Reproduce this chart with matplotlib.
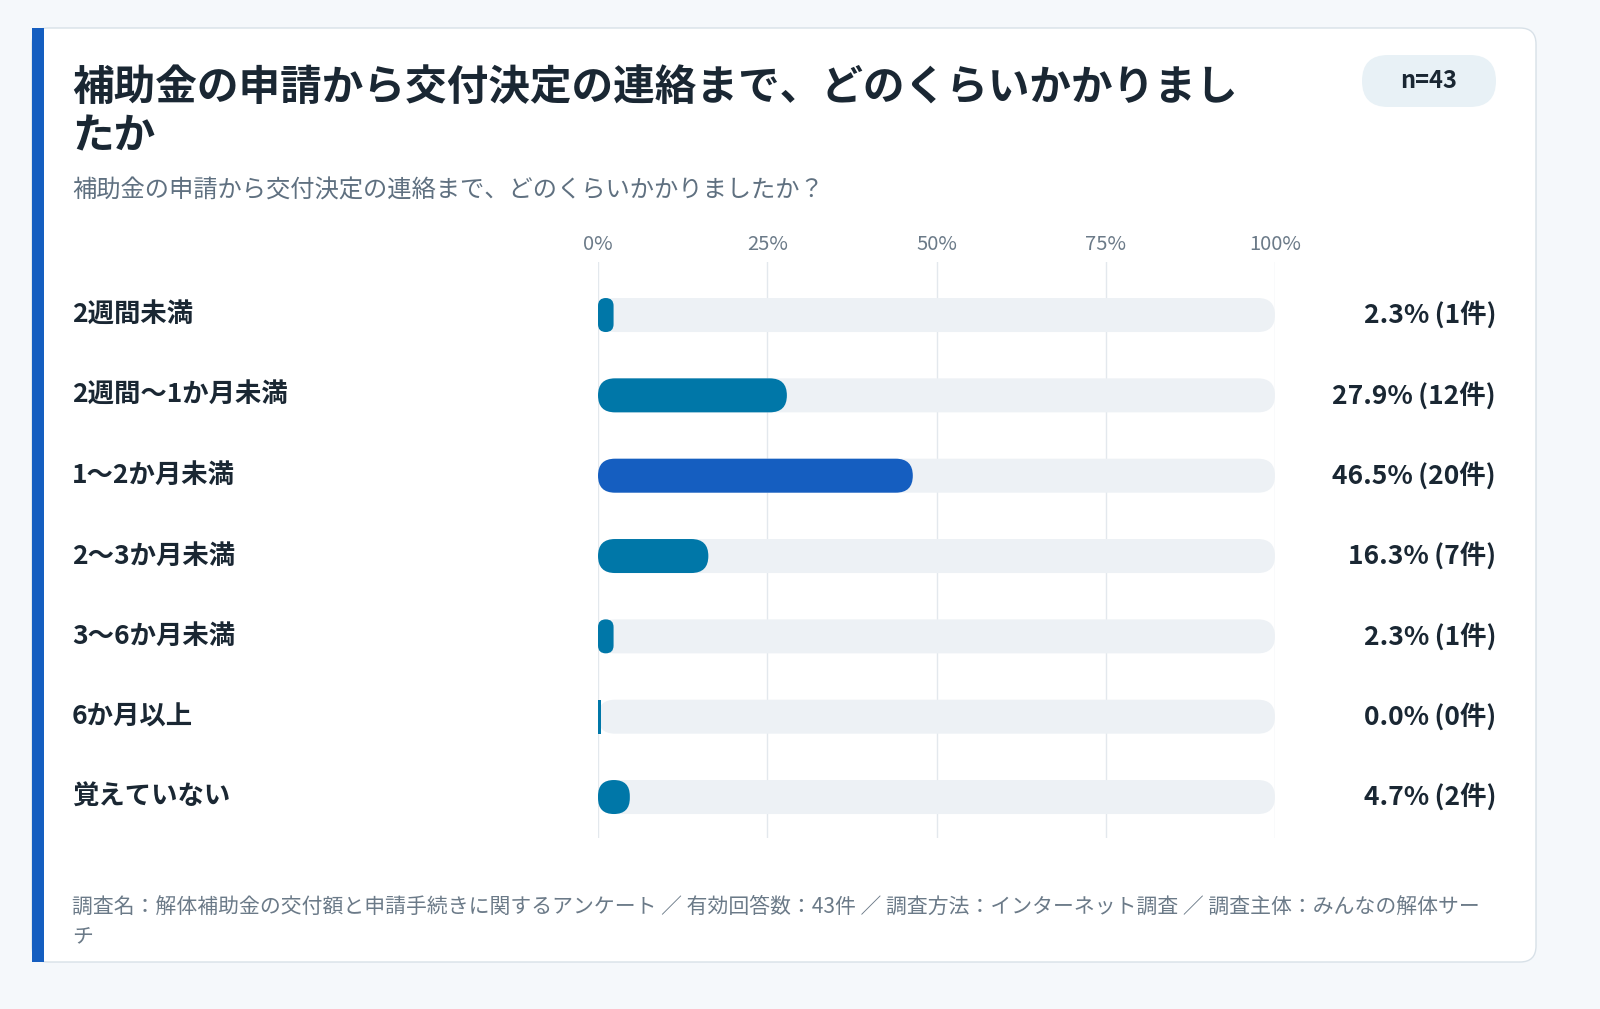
import matplotlib
matplotlib.use("Agg")
import matplotlib.pyplot as plt
from matplotlib.patches import FancyBboxPatch, Rectangle

plt.rcParams['font.family'] = ['Noto Sans CJK JP', 'DejaVu Sans']

categories = ["2週間未満", "2週間〜1か月未満", "1〜2か月未満", "2〜3か月未満", "3〜6か月未満", "6か月以上", "覚えていない"]
percents = [2.3, 27.9, 46.5, 16.3, 2.3, 0.0, 4.7]
counts = [1, 12, 20, 7, 1, 0, 2]
ticks = [0, 25, 50, 75, 100]
tick_labels = ["0%", "25%", "50%", "75%", "100%"]
title = "補助金の申請から交付決定の連絡まで、どのくらいかかりまし\nたか"
subtitle = "補助金の申請から交付決定の連絡まで、どのくらいかかりましたか？"
footer = "調査名：解体補助金の交付額と申請手続きに関するアンケート ／ 有効回答数：43件 ／ 調査方法：インターネット調査 ／ 調査主体：みんなの解体サー"
footer2 = "チ"
badge = "n=43"

W, H = 1600, 1009
fig = plt.figure(figsize=(16, 10.09), dpi=100)
fig.patch.set_facecolor('#f5f8fb')

bg = fig.add_axes([0, 0, 1, 1])
bg.set_xlim(0, W); bg.set_ylim(H, 0); bg.axis('off')
bg.add_patch(FancyBboxPatch((32, 28), 1504, 934, boxstyle="round,pad=0,rounding_size=16",
                            fc='white', ec='#d8e1e8', lw=1))
bg.add_patch(Rectangle((32, 28), 12, 934, fc='#155ec0', ec='none'))
bg.add_patch(FancyBboxPatch((1362, 55), 134, 52, boxstyle="round,pad=0,rounding_size=26",
                            fc='#e8f1f6', ec='none'))
bg.text(1429, 81, badge, ha='center', va='center', fontsize=17, fontweight='bold', color='#1a2733')
bg.text(72, 112, title, ha='left', va='center', fontsize=30, fontweight='bold', color='#1a2733',
        linespacing=1.2)
bg.text(72, 191, subtitle, ha='left', va='center', fontsize=17.5, color='#5f7080')
bg.text(72, 907, footer, ha='left', va='center', fontsize=15, color='#6b7a88')
bg.text(72, 936, footer2, ha='left', va='center', fontsize=15, color='#6b7a88')

x0p, x1p, y0p, y1p = 598, 1275, 262, 838
ax = fig.add_axes([x0p / W, 1 - y1p / H, (x1p - x0p) / W, (y1p - y0p) / H])
ax.set_xlim(0, 100)
ax.set_ylim(6.51, -0.66)
ax.axis('off')
pxx = (x1p - x0p) / 100.0
pxy = (y1p - y0p) / (6.51 + 0.66)
aspect = (1 / pxy) / (1 / pxx)
bh = 34 / pxy
r = 17 / pxx

for t, tl in zip(ticks, tick_labels):
    ax.axvline(t, color='#e3e8ed', lw=1, zorder=0)
    bg.text(x0p + t * pxx, 245, tl, ha='center', va='center', fontsize=14.5, color='#6b7a88')

mx = max(percents)
for i, (c, p, n) in enumerate(zip(categories, percents, counts)):
    ax.add_patch(FancyBboxPatch((0, i - bh / 2), 100, bh,
                                boxstyle=f"round,pad=0,rounding_size={r}",
                                mutation_aspect=aspect, fc='#edf1f5', ec='none', zorder=1))
    color = '#155ec0' if p == mx else '#0077a8'
    if p > 0:
        rr = min(r, p / 2)
        ax.add_patch(FancyBboxPatch((0, i - bh / 2), p, bh,
                                    boxstyle=f"round,pad=0,rounding_size={rr}",
                                    mutation_aspect=aspect, fc=color, ec='none', zorder=2))
    else:
        ax.add_patch(Rectangle((0, i - bh / 2), 0.45, bh, fc=color, ec='none', zorder=2))
    ypx = y0p + (i + 0.66) * pxy
    bg.text(72, ypx, c, ha='left', va='center', fontsize=19, fontweight='bold', color='#1a2733')
    bg.text(1496, ypx, f"{p:.1f}%\u2009({n}件)", ha='right', va='center', fontsize=19,
            fontweight='bold', color='#1a2733')

fig.savefig('out.png', dpi=100, facecolor=fig.get_facecolor())
